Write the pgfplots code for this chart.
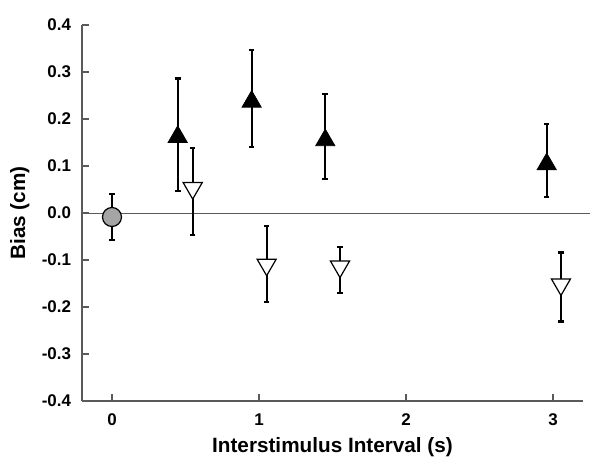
\documentclass[border=0pt]{standalone}
\usepackage{fontspec}
\setmainfont{Liberation Sans}
\usepackage{pgfplots}
\pgfplotsset{compat=1.18}
\definecolor{axgray}{RGB}{90,90,90}
\definecolor{circgray}{RGB}{165,165,165}
\begin{document}
\begin{tikzpicture}
\useasboundingbox (-41bp,-34bp) rectangle (259.5bp,200.5bp);
\begin{axis}[
  at={(0,0)}, anchor=south west,
  scale only axis,
  width=250.5bp, height=188bp,
  xmin=-0.204, xmax=3.204,
  ymin=-0.4, ymax=0.4,
  axis x line*=bottom, axis y line*=left,
  axis line style={axgray, line width=0.8bp},
  tick style={axgray, line width=0.6bp},
  tick align=inside,
  major tick length=3.5bp,
  xtick={0,1,2,3}, xticklabels={0,1,2,3},
  ytick={-0.4,-0.3,-0.2,-0.1,0,0.1,0.2,0.3,0.4},
  yticklabels={-0.4,-0.3,-0.2,-0.1,0.0,0.1,0.2,0.3,0.4},
  /pgf/number format/assume math mode=true,
  ticklabel style={font=\fontsize{8.5}{10}\selectfont\bfseries},
  yticklabel style={xshift=-2bp},
  xticklabel style={yshift=-3bp},
  xlabel={Interstimulus Interval (s)},
  ylabel={Bias (cm)},
  label style={font=\fontsize{10.4}{12}\selectfont\bfseries},
  xlabel style={at={(axis description cs:0.5,-0.122)}, anchor=center},
  ylabel style={at={(axis description cs:-0.124,0.5)}, anchor=center},
  clip=false,
  error bars/error bar style={black, line width=1.1bp},
  error bars/error mark options={black, line width=1.1bp, mark size=1.4bp, rotate=90},
]
\addplot[axgray, line width=0.5bp, no marks] coordinates {(-0.204,0) (3.25,0)};
% gray circle
\addplot[only marks, mark=*, mark size=4.75bp, mark options={fill=circgray, draw=black, line width=0.6bp},
  error bars/.cd, y dir=both, y explicit]
  coordinates {(0,-0.0085) += (0,0.0485) -= (0,0.0485)};
% filled up triangles
\addplot[only marks, mark=triangle*, mark size=5.5bp, mark options={fill=black, draw=black},
  error bars/.cd, y dir=both, y explicit]
  coordinates {
    (0.447,0.162) += (0,0.124) -= (0,0.115)
    (0.950,0.237) += (0,0.110) -= (0,0.097)
    (1.451,0.155) += (0,0.098) -= (0,0.083)
    (2.957,0.104) += (0,0.086) -= (0,0.070)
  };
% open down triangles
\addplot[only marks, mark=triangle*, mark size=5.5bp, mark options={fill=white, draw=black, line width=0.6bp, rotate=180},
  error bars/.cd, y dir=both, y explicit]
  coordinates {
    (0.549,0.053) += (0,0.086) -= (0,0.100)
    (1.052,-0.110) += (0,0.083) -= (0,0.080)
    (1.551,-0.114) += (0,0.042) -= (0,0.056)
    (3.054,-0.152) += (0,0.068) -= (0,0.079)
  };
\end{axis}
\end{tikzpicture}
\end{document}
